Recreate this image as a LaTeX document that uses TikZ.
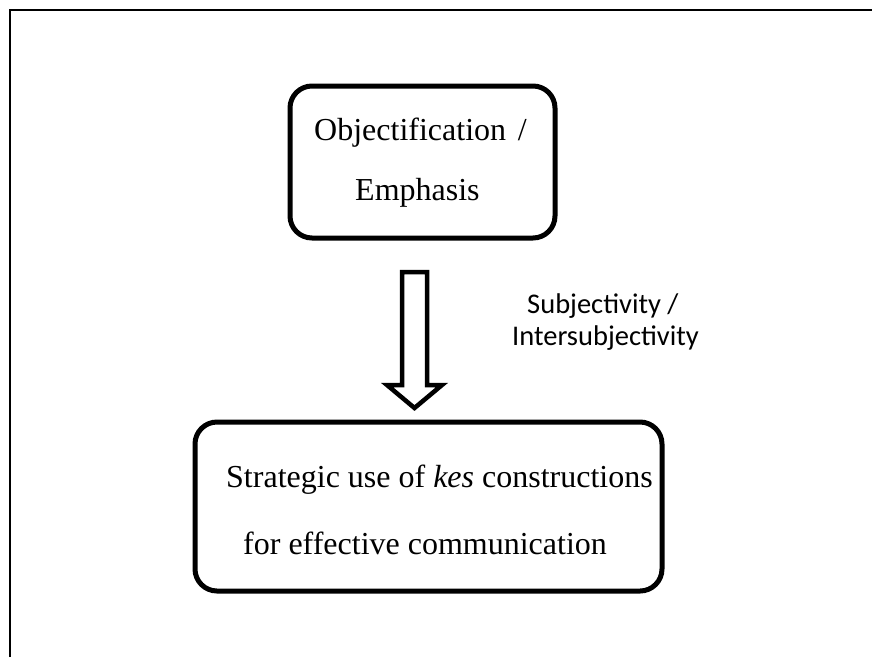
\documentclass[tikz,border=0pt]{standalone}
\usepackage{fontspec}
\setmainfont{Liberation Serif}
\newfontfamily\labelfont{Carlito}
\begin{document}
\begin{tikzpicture}[x=1pt,y=-1pt,
  stagebox/.style={draw=black,line width=5pt,rounded corners=22pt},
  boxtext/.style={font=\fontsize{32}{36}\selectfont,inner sep=0pt,anchor=base west},
  sidetext/.style={font=\labelfont\fontsize{28.5}{32}\selectfont,inner sep=0pt,anchor=base west}]
  \useasboundingbox (0,0) rectangle (872,657);
  % page frame: top and left rules
  \draw[line width=2pt] (10,657) -- (10,10) -- (872,10);
  % stage boxes
  \draw[stagebox] (290,86) rectangle (555,238);
  \draw[stagebox] (195,422) rectangle (662,591);
  \node[boxtext] (obj) at (314,140) {Objectification\hspace{0.12em} /};
  \node[boxtext] (emph) at (355,200) {Emphasis};
  \node[boxtext] (strat) at (226,487) {Strategic use of \textit{kes} constructions};
  \node[boxtext] (comm) at (243,554) {for effective communication};
  % hollow block arrow
  \draw[line width=4.5pt,fill=white,line join=miter]
    (402,272) -- (427,272) -- (427,385) -- (442,385) -- (414.5,408)
    -- (387,385) -- (402,385) -- cycle;
  \node[sidetext] (subj) at (527,313) {Subjectivity /};
  \node[sidetext] (inter) at (512,345) {Intersubjectivity};
\end{tikzpicture}
\end{document}
